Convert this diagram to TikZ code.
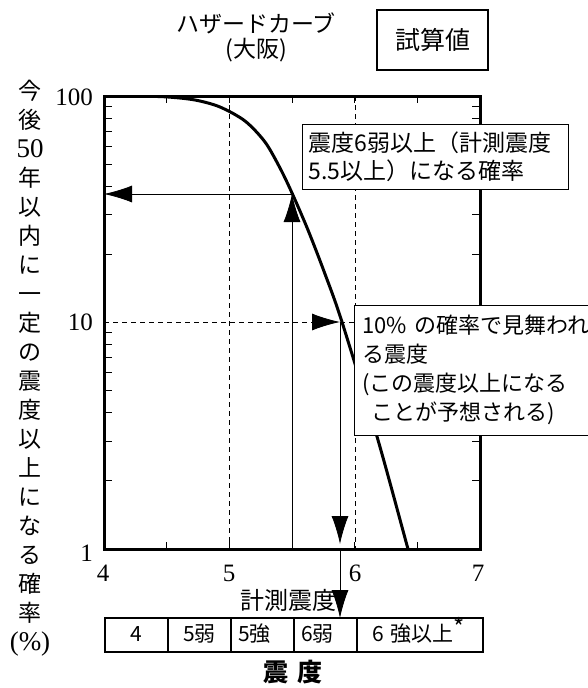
\documentclass[tikz,border=0pt]{standalone}
\usepackage{fontspec}
\setmainfont{Liberation Serif}
\newfontfamily\jpfont{Noto Sans CJK JP}
\usepackage{tikz}
\usetikzlibrary{arrows.meta,positioning}
\tikzstyle{probarrow} = [line width=0.8pt,-{Latex[length=28pt,width=17pt]}]
\tikzstyle{gridline} = [line width=0.8pt,dash pattern=on 5pt off 4pt]
\tikzstyle{axtick} = [line width=0.8pt]
\tikzstyle{hazard} = [line width=3pt,line join=round]
\tikzstyle{ticklabel} = [font=\fontsize{25}{30}\selectfont, inner sep=0pt]
\tikzstyle{notebox} = [rectangle, draw, fill=white, line width=0.8pt, anchor=north west, align=left]
\tikzstyle{scalecell} = [rectangle, draw, line width=1.5pt, outer sep=0pt, minimum height=34pt, inner xsep=7pt, inner ysep=0pt, text height=16pt, text depth=3pt, font=\jpfont\fontsize{21}{24}\selectfont]

\begin{document}
\begin{tikzpicture}[x=1pt,y=-1pt]
\useasboundingbox (0,0) rectangle (588,688);

% title
\node[font=\jpfont\fontsize{23}{25}\selectfont, align=center] (title) at (256,37) {ハザードカーブ\\(大阪)};
\node[draw, line width=1.2pt, minimum width=111pt, minimum height=60pt, font=\jpfont\fontsize{25}{30}\selectfont] (trial) at (432.5,40) {試算値};

% plot corners
\coordinate (bl) at (104,549);
\coordinate (tr) at (480,96);

% grid lines at 5 and 6
\draw[gridline] (229,96) -- (229,549);
\draw[gridline] (355,96) -- (355,549);

% ticks
\foreach \x in {166.7,229.3,292,354.7,417.3} {
  \draw[axtick] (\x,96) -- ++(0,7);
  \draw[axtick] (\x,549) -- ++(0,-7);
}
\foreach \dec in {0,226.5} \foreach \v in {2,...,9} {
  \draw[axtick] (104,{96+\dec+(1-log10(\v))*226.5}) -- ++(8,0);
  \draw[axtick] (480,{96+\dec+(1-log10(\v))*226.5}) -- ++(-8,0);
}

% hazard curve
\begin{scope}
\clip (bl) rectangle (tr);
\draw[hazard] plot[smooth] coordinates {(130,96) (165,96.8) (195,100) (220,107) (245,121) (265,142) (280,168) (292,193) (308,230) (325,274) (342,322) (378,440) (408,549) (412,562)};
\end{scope}

% axis labels
\node[ticklabel, anchor=east] (y100) at (93,97) {100};
\node[ticklabel, anchor=east] (y10) at (93,322) {10};
\node[ticklabel, anchor=east] (y1) at (93,553) {1};
\node[ticklabel] (x4) at (103,573) {4};
\node[ticklabel] (x5) at (229,573) {5};
\node[ticklabel] (x6) at (355,573) {6};
\node[ticklabel] (x7) at (478,573) {7};
\node[font=\jpfont\fontsize{23}{29}\selectfont, align=center, inner sep=0pt] (ylabel) at (30,368) {今\\後\\{\rmfamily\fontsize{27}{29}\selectfont 50}\\年\\以\\内\\に\\一\\定\\の\\震\\度\\以\\上\\に\\な\\る\\確\\率\\{\rmfamily\fontsize{27}{29}\selectfont (\%)}};
\node[font=\jpfont\fontsize{24}{28}\selectfont] (mmi) at (288,600) {計測震度};

% reading arrows
\coordinate (p55) at (292,194);
\coordinate (b55) at (292,549);
\coordinate (l37) at (104,194);
\coordinate (l10) at (104,322);
\coordinate (p10) at (340,322);
\coordinate (r10) at (480,322);
\coordinate (b59) at (340,549);
\coordinate (s59) at (340,618);
\draw[probarrow] (b55) -- (p55);
\draw[probarrow] (p55) -- (l37);
\draw[probarrow, gridline] (l10) -- (p10);
\draw[gridline] (p10) -- (r10);
\draw[probarrow, shorten >=5pt] (p10) -- (b59);
\draw[probarrow] (b59) -- (s59);

% frame
\draw[line width=3pt] (bl) rectangle (tr);

% notes
\node[notebox, font=\jpfont\fontsize{23}{28}\selectfont, minimum width=266pt, minimum height=65pt, inner xsep=6pt, text width=254pt] (note55) at (302,124) {震度6弱以上（計測震度\\5.5以上）になる確率};
\node[notebox, font=\jpfont\fontsize{22}{29}\selectfont, minimum width=250pt, minimum height=130pt, inner xsep=8pt, text width=234pt] (note10) at (354,305) {10\% の確率で見舞われ\\る震度\\(この震度以上になる\\\hspace*{0.4em}ことが予想される)};

% shindo scale
\node[scalecell, anchor=west, text width=49pt, align=center] (c4) at (105,635) {4};
\node[scalecell, right=0pt of c4, text width=49pt, align=center] (c5l) {5弱};
\node[scalecell, right=0pt of c5l, text width=49pt, align=left] (c5u) {5強};
\node[scalecell, right=0pt of c5u, text width=49pt, align=left] (c6l) {6弱};
\node[scalecell, right=0pt of c6l, text width=96pt, inner xsep=15pt, align=left] (c6u) {6 強以上\raisebox{5pt}{\fontsize{24}{24}\selectfont *}};
\node[font=\jpfont\bfseries\fontsize{25}{30}\selectfont] (shindo) at (293,672) {震\hspace{0.4em}度};
\end{tikzpicture}
\end{document}
